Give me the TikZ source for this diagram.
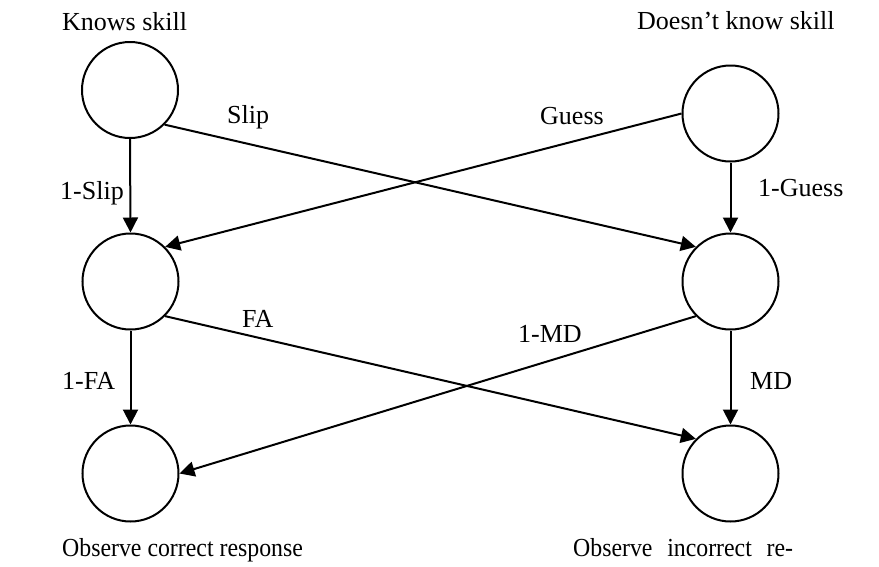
\documentclass[tikz,border=0pt]{standalone}
\usepackage{fontspec}
\usepackage{graphicx}
\setmainfont{Liberation Serif}
\usetikzlibrary{arrows.meta}
\begin{document}
\begin{tikzpicture}[x=1pt,y=-1pt,
  state/.style={circle,draw,line width=2pt,minimum size=96pt,inner sep=0pt},
  conn/.style={line width=2pt,-{Triangle[length=15pt,width=15pt]}},
  lbl/.style={anchor=base west,inner sep=0pt,font=\fontsize{26}{30}\selectfont}]
\useasboundingbox (0,0) rectangle (879,566);
\node[state] (kn) at (130,90) {};
\node[state] (dk) at (730.5,113.5) {};
\node[state] (ml) at (130.5,281.5) {};
\node[state] (mr) at (730.5,281.5) {};
\node[state] (bl) at (130.5,473.5) {};
\node[state] (br) at (730.5,473.5) {};

\node[lbl] (t1) at (62,30) {Knows skill};
\node[lbl] (t2) at (637,29) {Doesn’t know skill};
\node[lbl] (l1) at (227,123) {Slip};
\node[lbl] (l2) at (540,124) {Guess};
\node[lbl] (l3) at (60,199) {1-Slip};
\node[lbl] (l4) at (758,196) {1-Guess};
\node[lbl] (l5) at (242,327) {FA};
\node[lbl] (l6) at (518,342) {1-MD};
\node[lbl] (l7) at (62,389) {1-FA};
\node[lbl] (l8) at (750,389) {MD};
\node[lbl] (b1) at (62,556) {\scalebox{0.916}[1]{Observe correct response}};
\node[lbl] (b2) at (573,556) {\scalebox{0.916}[1]{\makebox[240pt][s]{Observe\hfil incorrect\hfil re-}}};

\draw[conn] (kn.south) -- (ml.north);
\draw[conn] (dk.south) -- (mr.north);
\draw[conn] (kn.-45) -- (mr.135);
\draw[conn] (dk.west) -- (ml.45);
\draw[conn] (ml.south) -- (bl.north);
\draw[conn] (mr.south) -- (br.north);
\draw[conn] (ml.-45) -- (br.135);
\draw[conn] (mr.-135) -- (bl.east);
\end{tikzpicture}
\end{document}
